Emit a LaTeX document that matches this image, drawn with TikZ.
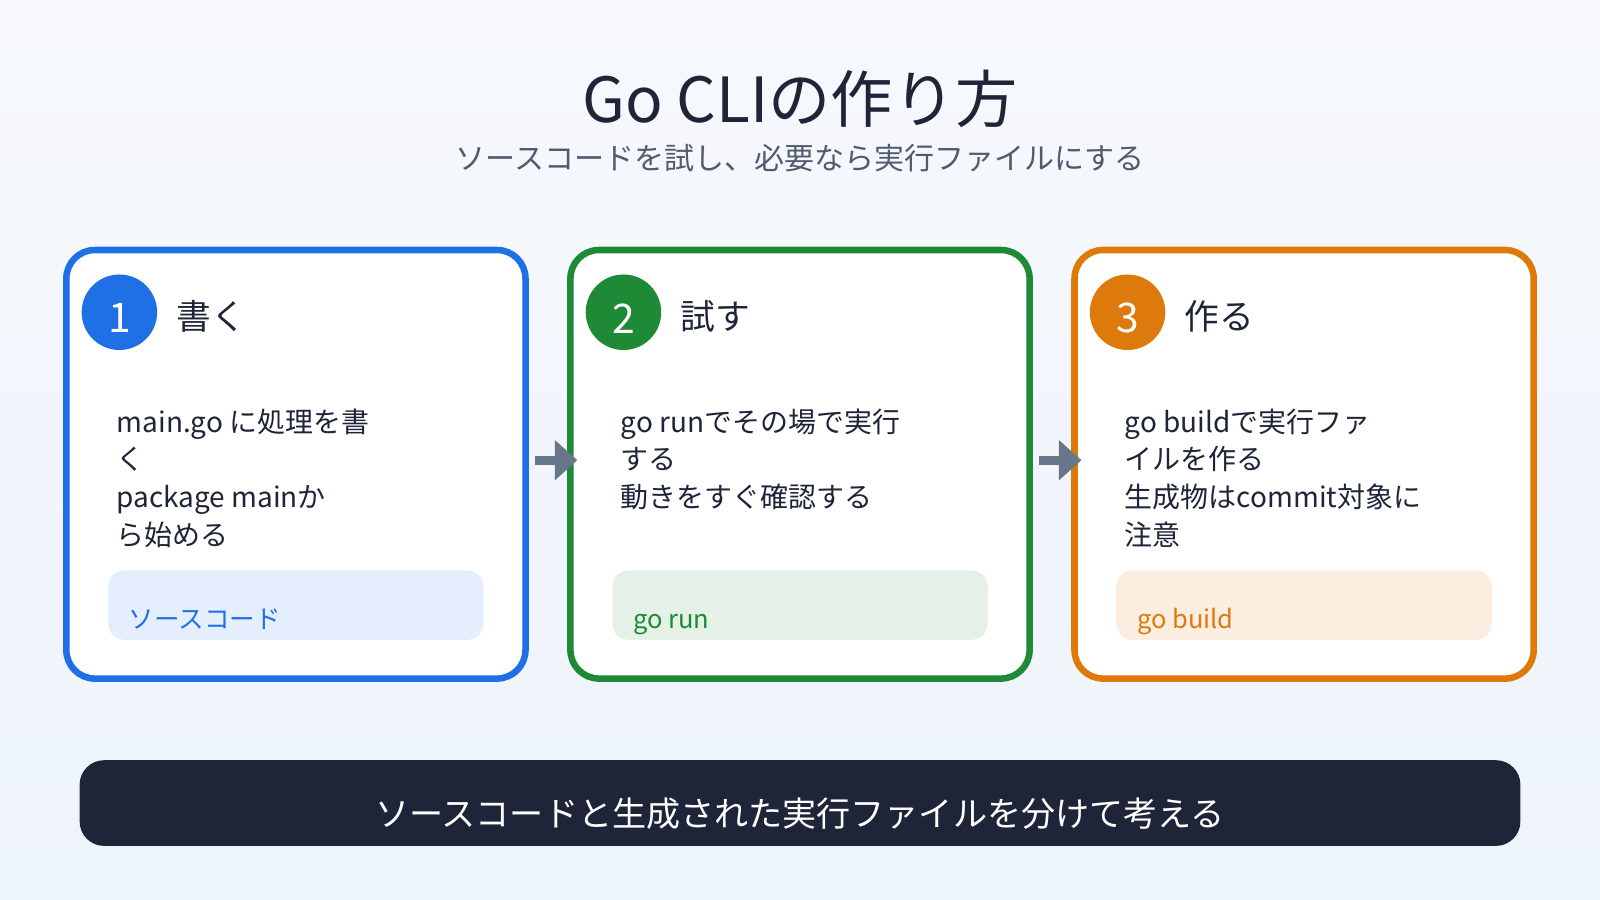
\documentclass[tikz,border=0pt]{standalone}
\usepackage{fontspec}
\setmainfont{Noto Sans CJK JP}
\usetikzlibrary{arrows.meta}
\definecolor{cblue}{HTML}{1F6FE5}
\definecolor{cgreen}{HTML}{1E8A36}
\definecolor{corange}{HTML}{DE7A0C}
\definecolor{pblue}{HTML}{E5EEFC}
\definecolor{pgreen}{HTML}{E5F0E6}
\definecolor{porange}{HTML}{FBEDE0}
\definecolor{ink}{HTML}{1F2538}
\definecolor{sub}{HTML}{4F5B6E}
\definecolor{arr}{HTML}{68768C}
\definecolor{bgtop}{HTML}{F6F8FC}
\definecolor{bgbot}{HTML}{EEF4FC}
\tikzset{
 card/.style={draw=#1,line width=3.2pt,fill=white,rounded corners=14pt,minimum width=225pt,minimum height=210pt,inner sep=0pt},
 num/.style={circle,fill=#1,minimum size=37pt,inner sep=0pt},
 numtext/.style={text=white,font=\fontsize{20}{24}\selectfont,inner sep=0pt},
 head/.style={anchor=west,font=\fontsize{17}{20}\selectfont,text=ink},
 body/.style={anchor=north west,align=left,font=\fontsize{13.7}{18.5}\selectfont,text=ink,inner sep=0pt},
 pill/.style={fill=#1,rounded corners=8pt,minimum width=184pt,minimum height=34pt,inner sep=0pt},
 pilltext/.style={anchor=base west,font=\fontsize{12.5}{14}\selectfont,text=#1,inner sep=0pt},
 conn/.style={draw=arr,line width=4.5pt,-{Triangle[length=11pt,width=19pt]}}
}
\begin{document}
\begin{tikzpicture}[x=0.5pt,y=-0.5pt]
\useasboundingbox (0,0) rectangle (1568,882);
\shade[top color=bgtop, bottom color=bgbot] (0,0) rectangle (1568,882);
\node[font=\fontsize{30.5}{36}\selectfont,text=ink] (title) at (784,97) {Go CLIの作り方};
\node[font=\fontsize{14.7}{17}\selectfont,text=sub] (subt) at (784,155) {ソースコードを試し、必要なら実行ファイルにする};
% cards
\node[card=cblue] (c1) at (290,455) {};
\node[card=cgreen] (c2) at (784,455) {};
\node[card=corange] (c3) at (1278,455) {};
\node[num=cblue] (n1) at (117,306) {};
\node[num=cgreen] (n2) at (611,306) {};
\node[num=corange] (n3) at (1105,306) {};
\node[numtext] (l1) at (117,312) {1};
\node[numtext] (l2) at (611,312) {2};
\node[numtext] (l3) at (1105,312) {3};
\node[head] (h1) at (166,310) {書く};
\node[head] (h2) at (660,310) {試す};
\node[head] (h3) at (1154,310) {作る};
\node[body] (b1) at (114,400) {main.go に処理を書\\く\\package mainか\\ら始める};
\node[body] (b2) at (608,400) {go runでその場で実行\\する\\動きをすぐ確認する};
\node[body] (b3) at (1102,400) {go buildで実行ファ\\イルを作る\\生成物はcommit対象に\\注意};
\node[pill=pblue] (p1) at (290,593) {};
\node[pill=pgreen] (p2) at (784,593) {};
\node[pill=porange] (p3) at (1278,593) {};
\node[pilltext=cblue] (t1) at (126,616) {ソースコード};
\node[pilltext=cgreen] (t2) at (620,616) {go run};
\node[pilltext=corange] (t3) at (1114,616) {go build};
\draw[conn] ([xshift=3pt,yshift=2pt]c1.east) -- ([xshift=5pt,yshift=2pt]c2.west);
\draw[conn] ([xshift=3pt,yshift=2pt]c2.east) -- ([xshift=5pt,yshift=2pt]c3.west);
% bottom bar
\node[fill=ink,rounded corners=12pt,minimum width=706pt,minimum height=42pt,inner sep=0pt] (bar) at (784,787) {};
\node[font=\fontsize{16.7}{20}\selectfont,text=white] (bt) at (784,797) {ソースコードと生成された実行ファイルを分けて考える};
\end{tikzpicture}
\end{document}
